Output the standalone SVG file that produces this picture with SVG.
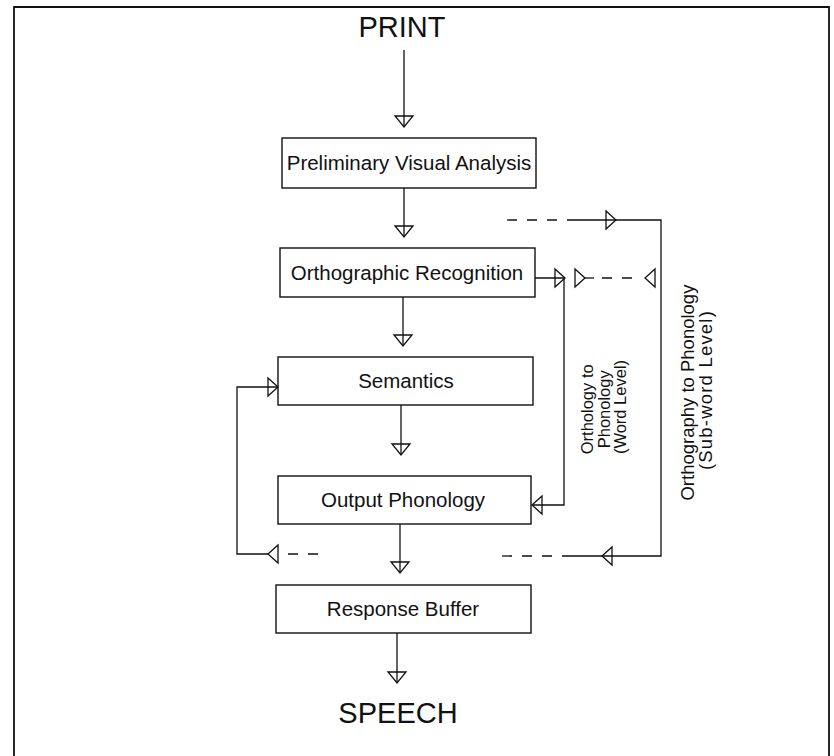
<svg xmlns="http://www.w3.org/2000/svg" width="834" height="756" viewBox="0 0 834 756">
  <style>
    .box { fill: #fff; stroke: #111; stroke-width: 1.4; }
    .ln { fill: none; stroke: #111; stroke-width: 1.3; }
    .dash { fill: none; stroke: #111; stroke-width: 1.3; stroke-dasharray: 10 10; }
    .head { fill: none; stroke: #111; stroke-width: 1.3; stroke-linejoin: miter; }
    .lbl { font-family: "Liberation Sans", Arial, sans-serif; font-size: 20.5px; fill: #111; text-anchor: middle; }
    .big { font-family: "Liberation Sans", Arial, sans-serif; font-size: 29px; fill: #111; text-anchor: middle; }
    .rot { font-family: "Liberation Sans", Arial, sans-serif; font-size: 16.5px; fill: #111; text-anchor: middle; }
    .rot2 { font-family: "Liberation Sans", Arial, sans-serif; font-size: 18.5px; fill: #111; text-anchor: middle; }
  </style>
  <defs>
    <!-- open triangle heads, tip at origin -->
    <path id="hDown" d="M-9,-11 L9,-11 L0,0 Z"/>
    <path id="hRight" d="M-10,-9 L-10,9 L0,0 Z"/>
    <path id="hLeft" d="M10,-9 L10,9 L0,0 Z"/>
  </defs>

  <rect width="834" height="756" fill="#fff"/>

  <!-- outer frame (open at the bottom edge) -->
  <path d="M14,760 V7 H829 V760" fill="none" stroke="#111" stroke-width="1.8"/>

  <text id="print" class="big" x="402" y="37">PRINT</text>
  <text id="speech" class="big" x="398" y="723">SPEECH</text>

  <g id="preliminary-visual-analysis">
    <rect class="box" x="282" y="138" width="254" height="50"/>
    <text class="lbl" x="409" y="170">Preliminary Visual Analysis</text>
  </g>
  <g id="orthographic-recognition">
    <rect class="box" x="280" y="248" width="255" height="49"/>
    <text class="lbl" x="407" y="280">Orthographic Recognition</text>
  </g>
  <g id="semantics">
    <rect class="box" x="278" y="357" width="255" height="48"/>
    <text class="lbl" x="406" y="388">Semantics</text>
  </g>
  <g id="output-phonology">
    <rect class="box" x="278" y="476" width="253" height="48"/>
    <text class="lbl" x="403" y="507">Output Phonology</text>
  </g>
  <g id="response-buffer">
    <rect class="box" x="276" y="585" width="255" height="48"/>
    <text class="lbl" x="403" y="616">Response Buffer</text>
  </g>

  <g id="connectors">
    <!-- main vertical flow -->
    <path class="ln" d="M404,50 V127"/>
    <use href="#hDown" class="head" x="404" y="127"/>
    <path class="ln" d="M404,188 V237"/>
    <use href="#hDown" class="head" x="404" y="237"/>
    <path class="ln" d="M403,297 V346"/>
    <use href="#hDown" class="head" x="403" y="346"/>
    <path class="ln" d="M401,405 V455"/>
    <use href="#hDown" class="head" x="401" y="455"/>
    <path class="ln" d="M400,524 V573"/>
    <use href="#hDown" class="head" x="400" y="573"/>
    <path class="ln" d="M397,633 V683"/>
    <use href="#hDown" class="head" x="397" y="683"/>

    <!-- semantics feedback loop on the left -->
    <path class="ln" d="M268,554 H237 V387 H278"/>
    <use href="#hRight" class="head" x="278" y="387"/>
    <use href="#hLeft" class="head" x="268" y="554"/>
    <path class="dash" d="M288,554 H320"/>

    <!-- word-level route -->
    <path class="ln" d="M535,278 H564 V505 H532"/>
    <use href="#hRight" class="head" x="565" y="278"/>
    <use href="#hLeft" class="head" x="532" y="505"/>
    <use href="#hRight" class="head" x="585" y="278"/>
    <path class="ln" d="M585,278 H594"/>
    <path class="dash" d="M602,278 H634"/>
    <use href="#hLeft" class="head" x="645" y="278"/>

    <!-- sub-word route -->
    <path class="dash" d="M507,220 H559"/>
    <path class="ln" d="M567,220 H661 V556 H562"/>
    <use href="#hRight" class="head" x="616" y="220"/>
    <use href="#hLeft" class="head" x="602" y="556"/>
    <path class="dash" d="M502,556 H554"/>
  </g>

  <g id="word-level-label">
    <text class="rot" transform="translate(593,407) rotate(-90)">
      <tspan x="0" y="0">Orthology to</tspan>
      <tspan x="0" y="16.5">Phonology</tspan>
      <tspan x="0" y="33">(Word Level)</tspan>
    </text>
  </g>
  <g id="sub-word-level-label">
    <text class="rot2" transform="translate(694,390) rotate(-90)">
      <tspan x="0" y="0">Orthography to Phonology</tspan>
      <tspan x="0" y="17.5" letter-spacing="1.2">(Sub-word Level)</tspan>
    </text>
  </g>
</svg>
